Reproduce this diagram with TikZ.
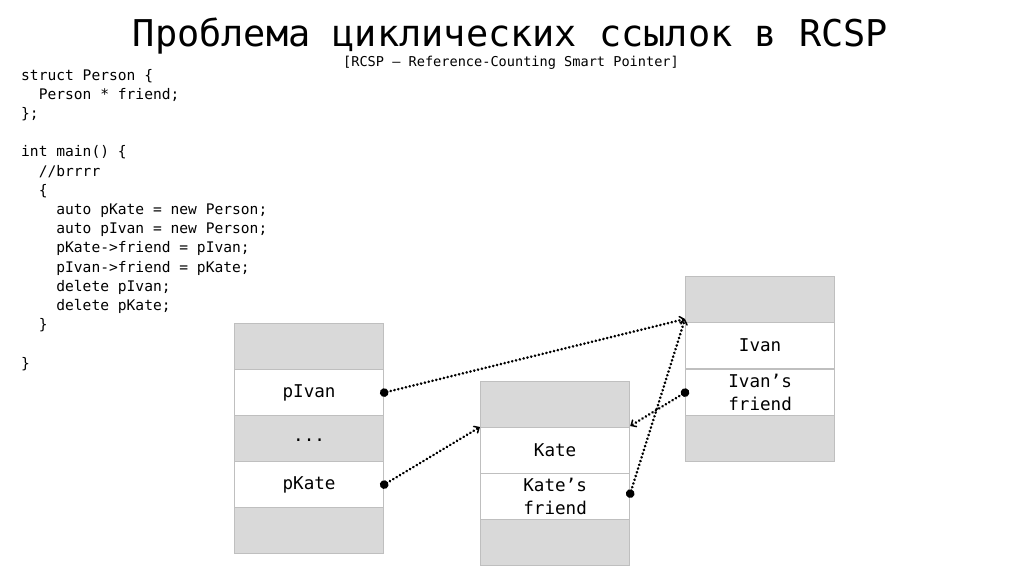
\documentclass[tikz,border=0pt]{standalone}
\usepackage{fontspec}
\setmainfont{DejaVu Sans Mono}
\usetikzlibrary{arrows.meta}
\definecolor{cellfill}{HTML}{D9D9D9}
\definecolor{cellline}{HTML}{BFBFBF}
\tikzset{
  code/.style={anchor=base west, inner sep=0pt, font=\fontsize{14.6}{19.2}\selectfont},
  cellbox/.style={draw=cellline, line width=1.2pt, minimum width=149pt, minimum height=46pt,
    inner sep=0pt, anchor=north west, align=center, font=\fontsize{17.6}{23}\selectfont},
  grey/.style={cellbox, fill=cellfill},
  white/.style={cellbox, fill=white},
  ptr/.style={line width=2.9pt, line cap=round, dash pattern=on 0.01pt off 3.9pt,
    {Circle[length=8.5pt,line cap=butt]}-{Straight Barb[length=4pt,width=7.5pt,line width=1.5pt,line cap=round]},
    shorten <=-4.25pt}
}
\begin{document}
\begin{tikzpicture}[x=1pt,y=-1pt]
\useasboundingbox (0,0) rectangle (1024,576);
% title
\node[anchor=base, inner sep=0pt, font=\fontsize{36.9}{40}\selectfont] (title) at (510.5,46) {Проблема циклических ссылок в RCSP};
\node[anchor=base, inner sep=0pt, font=\fontsize{13.6}{16}\selectfont] (subtitle) at (511,66) {[RCSP – Reference-Counting Smart Pointer]};
% code
\node[code] (c1) at (21,80) {struct Person \{};
\node[code] (c2) at (21,99.2) {~~Person * friend;};
\node[code] (c3) at (21,118.4) {\};};
\node[code] (c4) at (21,156.8) {int main() \{};
\node[code] (c5) at (21,176) {~~//brrrr};
\node[code] (c6) at (21,195.2) {~~\{};
\node[code] (c7) at (21,214.4) {~~~~auto pKate = new Person;};
\node[code] (c8) at (21,233.6) {~~~~auto pIvan = new Person;};
\node[code] (c9) at (21,252.8) {~~~~pKate->friend = pIvan;};
\node[code] (c10) at (21,272) {~~~~pIvan->friend = pKate;};
\node[code] (c11) at (21,291.2) {~~~~delete pIvan;};
\node[code] (c12) at (21,310.4) {~~~~delete pKate;};
\node[code] (c13) at (21,329.6) {~~\}};
\node[code] (c14) at (21,368) {\}};
% left stack
\node[grey] (l1) at (234,323) {};
\node[white] (pivan) at (234,369) {pIvan};
\node[grey, text height=6pt] (dots) at (234,415) {...};
\node[white] (pkate) at (234,461) {pKate};
\node[grey] (l5) at (234,507) {};
% middle stack
\node[grey] (m1) at (480,381) {};
\node[white] (kate) at (480,427) {Kate};
\node[white] (katef) at (480,473) {Kate’s\\friend};
\node[grey] (m4) at (480,519) {};
% right stack
\node[grey] (r1) at (685,276) {};
\node[white] (ivan) at (685,322) {Ivan};
\node[white] (ivanf) at (685,369) {Ivan’s\\friend};
\node[grey] (r4) at (685,415) {};
% pointers
\draw[ptr] (pivan.east) -- ([yshift=3pt]ivan.north west);
\draw[ptr] (pkate.east) -- (kate.north west);
\draw[ptr] (ivanf.west) -- ([yshift=1pt]kate.north east);
\draw[ptr] ([yshift=3pt]katef.east) -- ([yshift=3pt]ivan.north west);
\end{tikzpicture}
\end{document}
